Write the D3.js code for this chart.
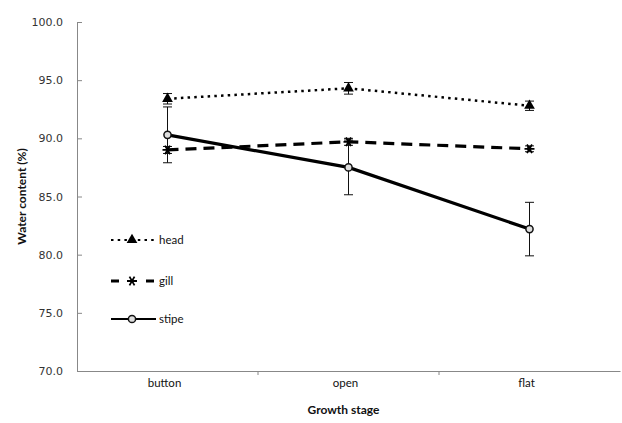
<!DOCTYPE html>
<html>
<head>
<meta charset="utf-8">
<script src="https://cdn.jsdelivr.net/npm/d3@7"></script>
<style>
  body { margin: 0; background: #fff; }
  svg { display: block; }
  .tick-y text { font-family: 'DejaVu Sans', sans-serif; font-size: 11px; fill: #333; }
  .cat text { font-family: Lato, 'Open Sans', sans-serif; font-size: 11.5px; fill: #111; }
  .axis-title { font-family: Lato, 'Open Sans', sans-serif; font-size: 12px; font-weight: bold; fill: #111; }
  .legend text { font-family: Lato, 'Open Sans', sans-serif; font-size: 11.5px; fill: #111; }
</style>
</head>
<body>
<svg width="622" height="423"></svg>
<script>
'use strict';

// data
const stages = ['button', 'open', 'flat'];
const yTicks = [70, 75, 80, 85, 90, 95, 100];

const head = [93.4, 94.3, 92.8];
const headErr = [0.45, 0.5, 0.4];
const gill = [89.0, 89.7, 89.1];
const gillErr = [0.3, 0.3, 0.25];
const stipe = [90.3, 87.5, 82.2];
const stipeErr = [2.4, 2.35, 2.3];

const seriesNames = ['head', 'gill', 'stipe'];

(function (d3) {
  const svg = d3.select('svg');

  const left = 77, right = 620, top = 22, bottom = 371;

  const x = d3.scaleBand().domain(stages).range([left, right]);
  const xc = d => x(d) + x.bandwidth() / 2;
  const y = d3.scaleLinear().domain([70, 100]).range([bottom, top]);

  // y axis
  const yAxisG = svg.append('g')
    .attr('class', 'tick-y')
    .attr('transform', `translate(${left},0)`)
    .call(d3.axisLeft(y).tickValues(yTicks).tickFormat(d3.format('.1f')).tickSize(-5).tickPadding(14));
  yAxisG.select('.domain').attr('stroke', '#888');
  yAxisG.selectAll('.tick line').attr('stroke', '#888');

  // x axis: labels at band centres, ticks between bands
  const xAxisG = svg.append('g')
    .attr('class', 'cat')
    .attr('transform', `translate(0,${bottom})`)
    .call(d3.axisBottom(x).tickSize(0).tickPadding(8));
  xAxisG.select('.domain').attr('stroke', '#888');
  xAxisG.selectAll('.tick text').attr('dx', -3);
  svg.append('g').selectAll('line')
    .data(stages.slice(1))
    .enter().append('line')
      .attr('x1', d => x(d)).attr('x2', d => x(d))
      .attr('y1', bottom).attr('y2', bottom + 4)
      .attr('stroke', '#888');

  svg.append('text')
    .attr('class', 'axis-title')
    .attr('x', xc('open') - 5)
    .attr('y', 414)
    .attr('text-anchor', 'middle')
    .text('Growth stage');

  svg.append('text')
    .attr('class', 'axis-title')
    .attr('transform', `translate(26,${y(85)}) rotate(-90)`)
    .attr('text-anchor', 'middle')
    .text('Water content (%)');

  const series = [
    { name: 'head', values: head, err: headErr, dash: '2.5,4.2', width: 2.5 },
    { name: 'gill', values: gill, err: gillErr, dash: '11,7', width: 3.2 },
    { name: 'stipe', values: stipe, err: stipeErr, dash: null, width: 3.2 }
  ];

  const line = d3.line().x((v, i) => xc(stages[i])).y(v => y(v));

  const triangle = d3.symbol().type(d3.symbolTriangle).size(50);
  const asterisk = d3.symbol().type(d3.symbolAsterisk).size(70);

  const drawMarker = (g, name, cx, cy) => {
    if (name === 'head') {
      g.append('path').attr('d', triangle())
        .attr('transform', `translate(${cx},${cy})`)
        .attr('fill', '#000');
    } else if (name === 'gill') {
      g.append('path').attr('d', asterisk())
        .attr('transform', `translate(${cx},${cy}) rotate(90)`)
        .attr('fill', 'none').attr('stroke', '#000').attr('stroke-width', 1.8);
    } else {
      g.append('circle').attr('cx', cx).attr('cy', cy).attr('r', 3.6)
        .attr('fill', '#ddd').attr('stroke', '#111').attr('stroke-width', 1.5);
    }
  };

  // error bars
  series.forEach(s => {
    const eg = svg.append('g').attr('stroke', '#111').attr('stroke-width', 1);
    s.values.forEach((v, i) => {
      const cx = xc(stages[i]);
      const y0 = y(v - s.err[i]), y1 = y(v + s.err[i]);
      eg.append('line').attr('x1', cx).attr('x2', cx).attr('y1', y0).attr('y2', y1);
      eg.append('line').attr('x1', cx - 4.5).attr('x2', cx + 4.5).attr('y1', y0).attr('y2', y0);
      eg.append('line').attr('x1', cx - 4.5).attr('x2', cx + 4.5).attr('y1', y1).attr('y2', y1);
    });
  });

  // lines and markers
  series.forEach(s => {
    svg.append('path')
      .datum(s.values)
      .attr('d', line)
      .attr('fill', 'none')
      .attr('stroke', '#000')
      .attr('stroke-width', s.width)
      .attr('stroke-dasharray', s.dash);
    const mg = svg.append('g');
    s.values.forEach((v, i) => drawMarker(mg, s.name, xc(stages[i]), y(v)));
  });

  // legend
  const legendY = [240, 281, 319];
  const legend = svg.append('g').attr('class', 'legend');
  series.forEach((s, i) => {
    const ly = legendY[i];
    let dash = s.dash, w = s.width;
    if (s.name === 'gill') dash = '8,27';
    if (s.name === 'stipe') w = 2;
    legend.append('line')
      .attr('x1', 111).attr('x2', s.name === 'gill' ? 154 : 156)
      .attr('y1', ly).attr('y2', ly)
      .attr('stroke', '#000').attr('stroke-width', s.name === 'head' ? 2 : w)
      .attr('stroke-dasharray', dash);
    drawMarker(legend, s.name, 132, ly);
    legend.append('text')
      .attr('x', 159).attr('y', ly).attr('dy', '0.35em')
      .text(seriesNames[i]);
  });
}(d3));
</script>
</body>
</html>
